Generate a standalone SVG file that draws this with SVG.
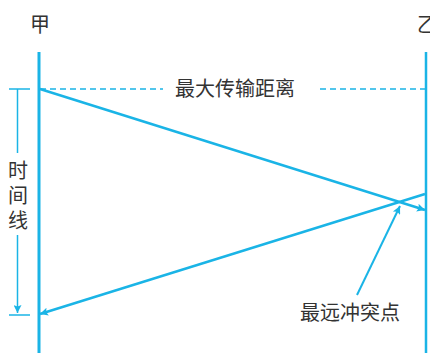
<svg xmlns="http://www.w3.org/2000/svg" width="430" height="353" viewBox="0 0 430 353">
<style>
.t{font-family:"Noto Sans CJK SC","Liberation Sans",sans-serif;fill:#333;font-size:20px}
.ln{stroke:#1ab4e6;fill:none}
</style>
<defs>
<marker id="ah" viewBox="0 0 10 10" refX="10" refY="5" markerWidth="7" markerHeight="5" markerUnits="userSpaceOnUse" orient="auto" overflow="visible">
<path d="M0,0 L10,5 L0,10 L3,5 Z" fill="#1ab4e6"/>
</marker>
<marker id="ahs" viewBox="0 0 10 10" refX="10" refY="5" markerWidth="16" markerHeight="8" markerUnits="userSpaceOnUse" orient="auto">
<path d="M0,0 L10,5 L0,10 L2,5 Z" fill="#1ab4e6"/>
</marker>
</defs>
<rect width="430" height="353" fill="#fff"/>
<g id="jia">
<line class="ln" x1="39" y1="52" x2="39" y2="353" stroke-width="3"/>
<text class="t" x="40" y="32" text-anchor="middle">甲</text>
</g>
<g id="yi">
<line class="ln" x1="426" y1="52" x2="426" y2="353" stroke-width="2.5"/>
<text class="t" x="417" y="32">乙</text>
</g>
<g id="maxdist">
<line class="ln" x1="40" y1="89" x2="163" y2="89" stroke-width="1.5" stroke-dasharray="6,4"/>
<line class="ln" x1="320" y1="89" x2="426" y2="89" stroke-width="1.5" stroke-dasharray="6,4"/>
<text class="t" x="175" y="96">最大传输距离</text>
</g>
<g id="timeline">
<line class="ln" x1="9" y1="89" x2="30" y2="89" stroke-width="1.5"/>
<line class="ln" x1="9" y1="315" x2="30" y2="315" stroke-width="1.5"/>
<line class="ln" x1="17.5" y1="89" x2="17.5" y2="153" stroke-width="1.5"/>
<line class="ln" x1="17.5" y1="235" x2="17.5" y2="313" stroke-width="1.5" marker-end="url(#ahs)"/>
<text class="t" x="18" y="178" text-anchor="middle">时</text>
<text class="t" x="18" y="203" text-anchor="middle">间</text>
<text class="t" x="18" y="228" text-anchor="middle">线</text>
</g>
<g id="collision">
<text class="t" x="300" y="320">最远冲突点</text>
</g>
<g id="connectors">
<line class="ln" x1="40" y1="89" x2="425" y2="210" stroke-width="2.5" marker-end="url(#ahs)"/>
<line class="ln" x1="425" y1="194" x2="40" y2="314" stroke-width="2.5" marker-end="url(#ahs)"/>
<line class="ln" x1="357" y1="295" x2="400" y2="206" stroke-width="2" marker-end="url(#ahs)"/>
</g>
</svg>
